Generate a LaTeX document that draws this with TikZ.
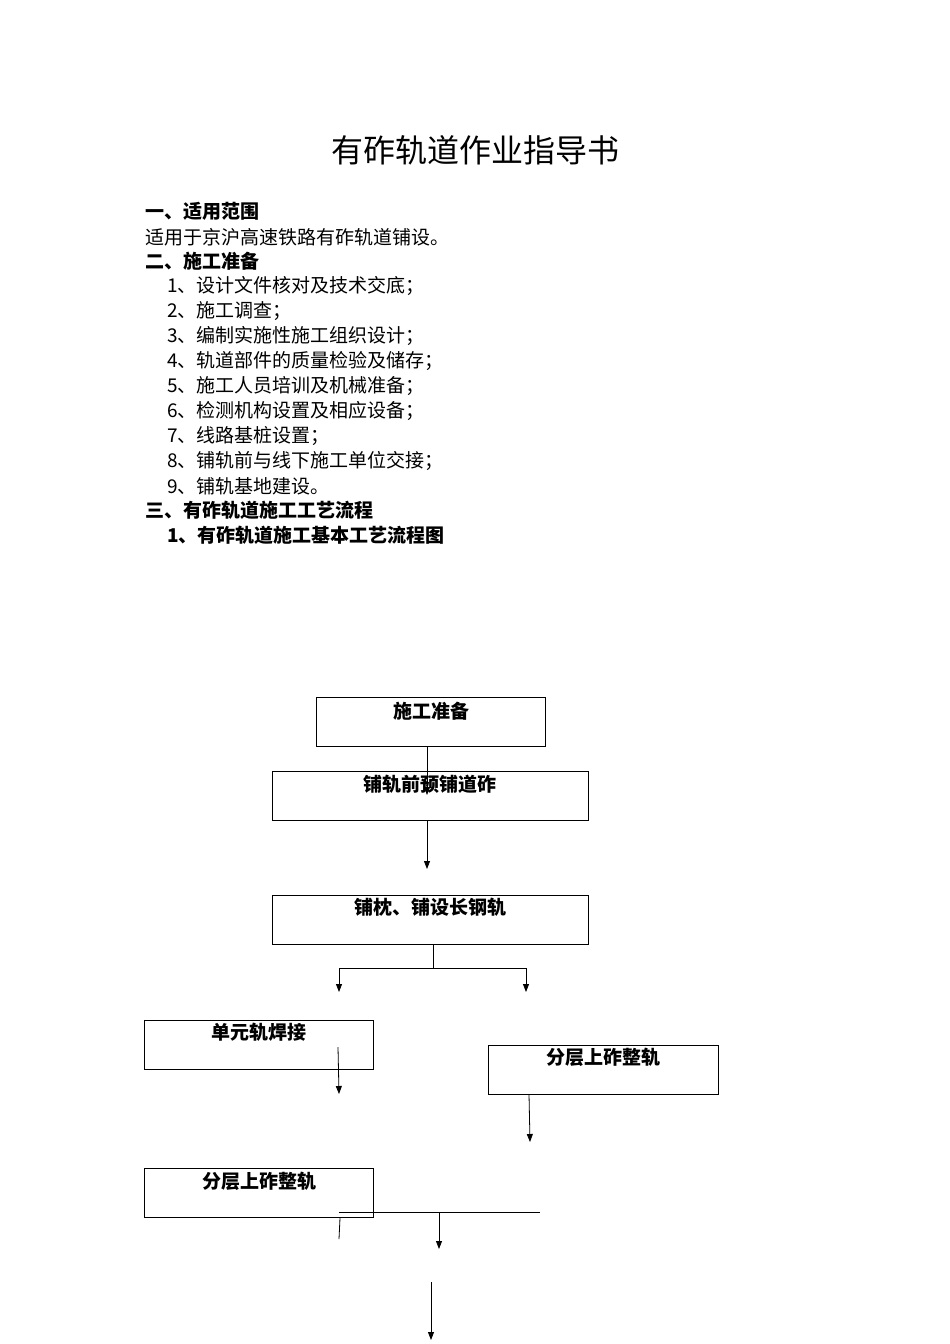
\documentclass[tikz,border=0pt]{standalone}
\usepackage{fontspec}
\setmainfont{Noto Sans CJK SC}
\usetikzlibrary{arrows.meta}
\begin{document}
\begin{tikzpicture}[x=1pt,y=-1pt,
  box/.style={draw,line width=0.8pt,anchor=north west,minimum height=49pt,inner sep=0pt},
  lbl/.style={font=\fontsize{19}{19}\selectfont\bfseries,anchor=center},
  txt/.style={font=\fontsize{19}{19}\selectfont,anchor=west,inner sep=0pt},
  htxt/.style={font=\fontsize{19}{19}\selectfont\bfseries,anchor=west,inner sep=0pt},
  arr/.style={-{Triangle[length=8pt,width=6pt]},line width=0.8pt},
  ln/.style={line width=0.8pt}]
\useasboundingbox (0,0) rectangle (950,1344);
\node[font=\fontsize{32}{32}\selectfont,anchor=center] (title) at (475,150) {有砟轨道作业指导书};
\node[htxt] (h1) at (145,211) {一、适用范围};
\node[txt] (t1) at (145,237) {适用于京沪高速铁路有砟轨道铺设。};
\node[htxt] (h2) at (145,261) {二、施工准备};
\node[txt] (i1) at (167,286) {1、设计文件核对及技术交底；};
\node[txt] (i2) at (167,311) {2、施工调查；};
\node[txt] (i3) at (167,336) {3、编制实施性施工组织设计；};
\node[txt] (i4) at (167,361) {4、轨道部件的质量检验及储存；};
\node[txt] (i5) at (167,386) {5、施工人员培训及机械准备；};
\node[txt] (i6) at (167,411) {6、检测机构设置及相应设备；};
\node[txt] (i7) at (167,436) {7、线路基桩设置；};
\node[txt] (i8) at (167,461) {8、铺轨前与线下施工单位交接；};
\node[txt] (i9) at (167,486) {9、铺轨基地建设。};
\node[htxt] (h3) at (145,510) {三、有砟轨道施工工艺流程};
\node[htxt] (h31) at (167,535) {1、有砟轨道施工基本工艺流程图};

\node[box,minimum width=229pt] (b1) at (316,697) {};
\node[lbl] (l1) at (431,711) {施工准备};
\node[box,minimum width=316pt] (b2) at (272,771) {};
\node[lbl] (l2) at (430,784) {铺轨前预铺道砟};
\node[box,minimum width=316pt] (b3) at (272,895) {};
\node[lbl] (l3) at (430,907) {铺枕、铺设长钢轨};
\node[box,minimum width=229pt] (b4) at (144,1020) {};
\node[lbl] (l4) at (259,1032) {单元轨焊接};
\node[box,minimum width=230pt] (b5) at (488,1045) {};
\node[lbl] (l5) at (603,1057) {分层上砟整轨};
\node[box,minimum width=229pt] (b6) at (144,1168) {};
\node[lbl] (l6) at (259,1181) {分层上砟整轨};

\coordinate (a1) at (427,795);
\coordinate (a2) at (427,869);
\coordinate (j1) at (433,968);
\coordinate (jl) at (339,968);
\coordinate (jr) at (526,968);
\coordinate (al) at (339,992);
\coordinate (ar) at (526,992);
\coordinate (s4) at (338,1047);
\coordinate (e4) at (339,1094);
\coordinate (s5) at (529,1094);
\coordinate (e5) at (530,1142);
\coordinate (hl) at (339,1212);
\coordinate (hr) at (540,1212);
\coordinate (hm) at (439,1212);
\coordinate (he) at (439,1249);
\coordinate (k1) at (340,1218);
\coordinate (k2) at (339,1239);
\coordinate (f1) at (431,1282);
\coordinate (f2) at (431,1340);

\draw[arr] (b1.south -| a1) -- (a1);
\draw[arr] (b2.south -| a2) -- (a2);
\draw[ln] (b3.south -| j1) -- (j1);
\draw[ln] (jl) -- (jr);
\draw[arr] (jl) -- (al);
\draw[arr] (jr) -- (ar);
\draw[arr] (s4) -- (e4);
\draw[arr] (s5) -- (e5);
\draw[ln] (hl) -- (hr);
\draw[arr] (hm) -- (he);
\draw[ln] (k1) -- (k2);
\draw[arr] (f1) -- (f2);
\end{tikzpicture}
\end{document}
